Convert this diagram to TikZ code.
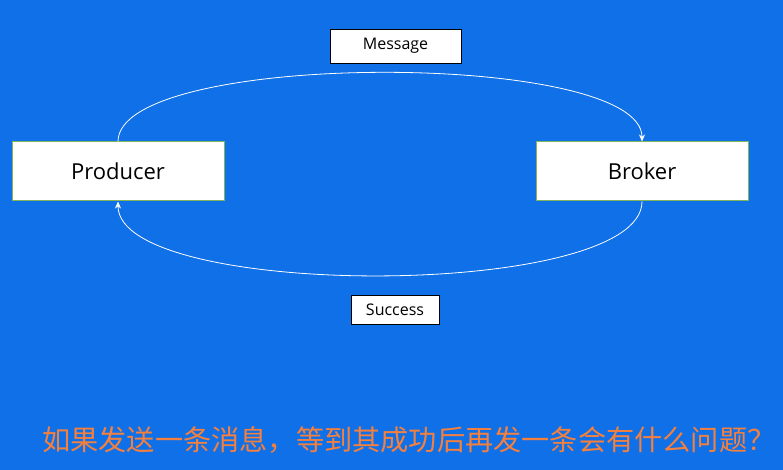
\documentclass[tikz,border=0pt]{standalone}
\usepackage{fontspec}
\setmainfont{Open Sans}
\newfontfamily\cjk{Noto Sans CJK SC}
\usetikzlibrary{arrows.meta}

\definecolor{bgblue}{RGB}{16,112,232}
\definecolor{boxgreen}{RGB}{130,180,90}
\definecolor{askorange}{RGB}{244,128,62}

\begin{document}
\begin{tikzpicture}[x=1pt,y=-1pt,
    party/.style={draw=boxgreen, line width=1pt, fill=white, minimum width=212pt, minimum height=59pt, inner sep=0pt, font=\fontsize{22}{26}\selectfont},
    tag/.style={draw=black, line width=0.8pt, fill=white, inner sep=0pt, font=\fontsize{16}{19}\selectfont},
    flow/.style={draw=white, line width=0.8pt, -{Stealth[length=7pt,width=6pt]}}]
            \fill[bgblue] (0,0) rectangle (783,470);
            \useasboundingbox (0,0) rectangle (783,470);

            \node[party] (P) at (118,171.5) {Producer};
            \node[party] (B) at (642,171.5) {Broker};
            \node[tag, minimum width=131pt, minimum height=34pt] (M) at (395.5,46) {Message};
            \node[tag, minimum width=88pt, minimum height=29pt] (S) at (395,309.5) {Success};

            \draw[flow] (P.north) .. controls (118,50) and (642,50) .. (B.north);
            \draw[flow] (B.south) .. controls (642,300) and (118,300) .. (P.south);

            \node[anchor=west, text=askorange, inner sep=0pt, font=\cjk\fontsize{28.2}{33}\selectfont] (Q) at (42,440) {如果发送一条消息，等到其成功后再发一条会有什么问题？};
        \end{tikzpicture}
\end{document}
